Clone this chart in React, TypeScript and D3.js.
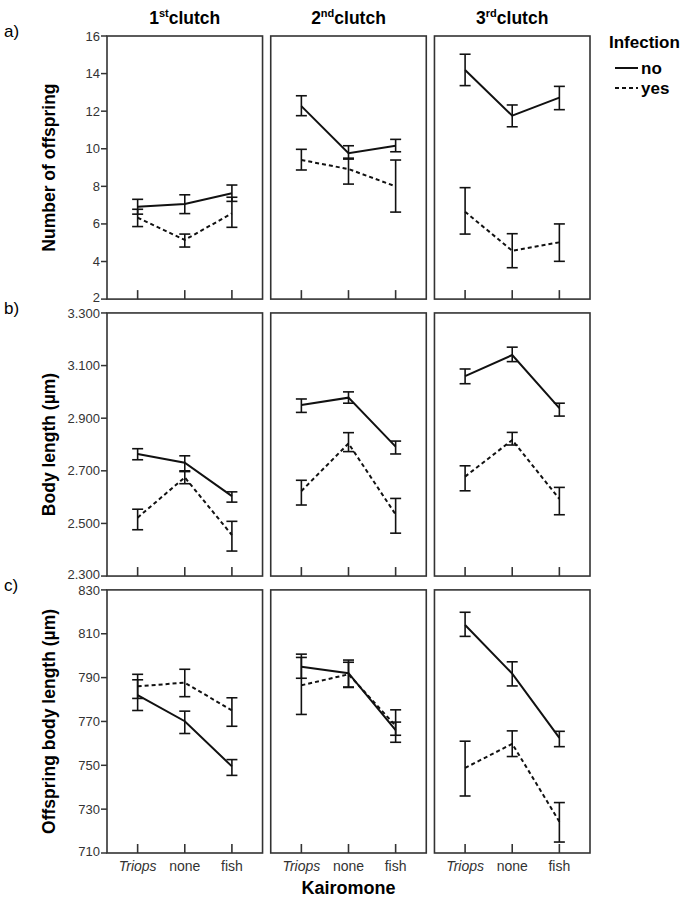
import * as d3 from "d3";

const kairomones = ["Triops", "none", "fish"];
const clutches = ["1st", "2nd", "3rd"];
const infections = ["no", "yes"];

// [mean, lower, upper] per clutch, per kairomone
const offspringNo = [
  [[6.92, 6.52, 7.31], [7.06, 6.55, 7.55], [7.63, 7.2, 8.07]],
  [[12.27, 11.76, 12.82], [9.76, 9.45, 10.16], [10.16, 9.84, 10.5]],
  [[14.19, 13.36, 15.03], [11.76, 11.17, 12.33], [12.72, 12.08, 13.32]],
];
const offspringYes = [
  [[6.33, 5.86, 6.78], [5.15, 4.77, 5.46], [6.56, 5.82, 7.42]],
  [[9.4, 8.87, 9.97], [8.92, 8.12, 9.5], [8.0, 6.63, 9.4]],
  [[6.65, 5.46, 7.93], [4.57, 3.67, 5.48], [5.02, 4.01, 6.0]],
];
const bodyNo = [
  [[2.764, 2.742, 2.784], [2.731, 2.697, 2.757], [2.604, 2.581, 2.62]],
  [[2.95, 2.922, 2.973], [2.978, 2.957, 3.0], [2.792, 2.764, 2.813]],
  [[3.06, 3.031, 3.087], [3.14, 3.115, 3.17], [2.938, 2.908, 2.957]],
];
const bodyYes = [
  [[2.522, 2.476, 2.554], [2.675, 2.651, 2.7], [2.456, 2.395, 2.508]],
  [[2.623, 2.57, 2.664], [2.804, 2.773, 2.845], [2.534, 2.463, 2.595]],
  [[2.678, 2.624, 2.719], [2.817, 2.798, 2.846], [2.593, 2.533, 2.637]],
];
const offBodyNo = [
  [[782, 775, 789], [770.1, 764.5, 774.7], [749.5, 745.4, 752.6]],
  [[795, 789.7, 800.7], [792, 785.7, 798], [766, 760.5, 769.7]],
  [[814, 808.8, 819.8], [791.8, 786.2, 797.2], [762.5, 758.5, 765.5]],
];
const offBodyYes = [
  [[786, 780.5, 791.5], [787.7, 781.3, 793.8], [775, 767.8, 780.8]],
  [[786.5, 773.2, 799.2], [791.5, 785.5, 797], [768, 763.7, 775.3]],
  [[748.8, 736, 761], [759.8, 754, 765.7], [724.3, 715, 733]],
];

const rows = [
  { key: "a", label: "Number of offspring", domain: [2, 16], ticks: d3.range(2, 17, 2), fmt: d3.format("d"), no: offspringNo, yes: offspringYes },
  { key: "b", label: "Body length (µm)", domain: [2.3, 3.3], ticks: d3.range(2.3, 3.31, 0.2), fmt: d3.format(".3f"), no: bodyNo, yes: bodyYes },
  { key: "c", label: "Offspring body length (µm)", domain: [710, 830], ticks: d3.range(710, 831, 20), fmt: d3.format("d"), no: offBodyNo, yes: offBodyYes },
];

const FONT = "'Liberation Sans', Arial, Helvetica, sans-serif";

export default function App() {
  const colX = d3.scaleBand().domain(clutches).range([107, 590]).paddingInner(0.05);
  const rowY = d3.scaleBand().domain(rows.map((r) => r.key)).range([36, 853]).paddingInner(0.05);
  const bw = colX.bandwidth();
  const bh = rowY.bandwidth();
  const kx = d3.scalePoint().domain(kairomones).range([0, bw]).padding(0.65);
  const dash: Record<string, string | undefined> = { no: undefined, yes: "4,3" };

  return (
    <svg
      width={685}
      height={904}
      style={{ position: "absolute", left: 0, top: 0, display: "block", background: "white" }}
      fontFamily={FONT}
    >
      {/* column titles */}
      {clutches.map((c) => (
        <text key={c} x={colX(c)! + bw / 2} y={24} textAnchor="middle" fontSize={17.5} fontWeight="bold">
          {c.slice(0, 1)}
          <tspan fontSize={11} dy={-7}>{c.slice(1)}</tspan>
          <tspan dy={7}>clutch</tspan>
        </text>
      ))}

      {rows.map((r) => {
        const top = rowY(r.key)!;
        const y = d3.scaleLinear().domain(r.domain).range([top + bh, top]);
        const [lo, hi] = r.domain;
        return (
          <g key={r.key}>
            <text x={4} y={top + 1} fontSize={17}>{r.key + ")"}</text>
            <text
              transform={`translate(55,${top + bh / 2}) rotate(-90)`}
              textAnchor="middle"
              fontSize={17.5}
              fontWeight="bold"
            >
              {r.label}
            </text>
            {r.ticks.map((t) => (
              <g key={t}>
                <line x1={101} x2={107} y1={y(t)} y2={y(t)} stroke="#333" strokeWidth={1.5} />
                <text
                  x={100}
                  y={y(t)}
                  dy={Math.abs(t - lo) < 1e-6 ? "0.2em" : Math.abs(t - hi) < 1e-6 ? "0.42em" : "0.35em"}
                  textAnchor="end"
                  fontSize={13}
                  fill="#333"
                >
                  {r.fmt(t)}
                </text>
              </g>
            ))}
            {clutches.map((c, ci) => {
              const x0 = colX(c)!;
              return (
                <g key={c} transform={`translate(${x0},0)`}>
                  <rect x={0} y={top} width={bw} height={bh} fill="none" stroke="#333" strokeWidth={1.6} />
                  {kairomones.map((k) => (
                    <line key={k} x1={kx(k)} x2={kx(k)} y1={top + bh} y2={top + bh - 9} stroke="#333" strokeWidth={1.6} />
                  ))}
                  {infections.map((inf) => {
                    const vals = (inf === "no" ? r.no : r.yes)[ci];
                    const line = d3
                      .line<number[]>()
                      .x((d, i) => kx(kairomones[i])!)
                      .y((d) => y(d[0]));
                    return (
                      <g key={inf}>
                        {vals.map((d, i) => {
                          const cx = kx(kairomones[i])!;
                          return (
                            <g key={i} stroke="#111" strokeWidth={1.6}>
                              <line x1={cx} x2={cx} y1={y(d[1])} y2={y(d[2])} />
                              <line x1={cx - 5.5} x2={cx + 5.5} y1={y(d[1])} y2={y(d[1])} />
                              <line x1={cx - 5.5} x2={cx + 5.5} y1={y(d[2])} y2={y(d[2])} />
                            </g>
                          );
                        })}
                        <path d={line(vals)!} fill="none" stroke="#111" strokeWidth={2} strokeDasharray={dash[inf]} />
                      </g>
                    );
                  })}
                  {r.key === "c" &&
                    kairomones.map((k) => (
                      <text
                        key={k}
                        x={kx(k)}
                        y={top + bh + 18}
                        textAnchor="middle"
                        fontSize={14}
                        fill="#333"
                        fontStyle={k === "Triops" ? "italic" : "normal"}
                      >
                        {k}
                      </text>
                    ))}
                </g>
              );
            })}
          </g>
        );
      })}

      <text x={colX("2nd")! + bw / 2} y={894} textAnchor="middle" fontSize={18} fontWeight="bold">
        Kairomone
      </text>

      {/* legend */}
      <text x={609} y={48} fontSize={17} fontWeight="bold">Infection</text>
      {infections.map((inf, i) => (
        <g key={inf}>
          <line x1={615} x2={638} y1={68 + i * 20} y2={68 + i * 20} stroke="#111" strokeWidth={2} strokeDasharray={dash[inf]} />
          <text x={641} y={74 + i * 20} fontSize={17} fontWeight="bold">{inf}</text>
        </g>
      ))}
    </svg>
  );
}
